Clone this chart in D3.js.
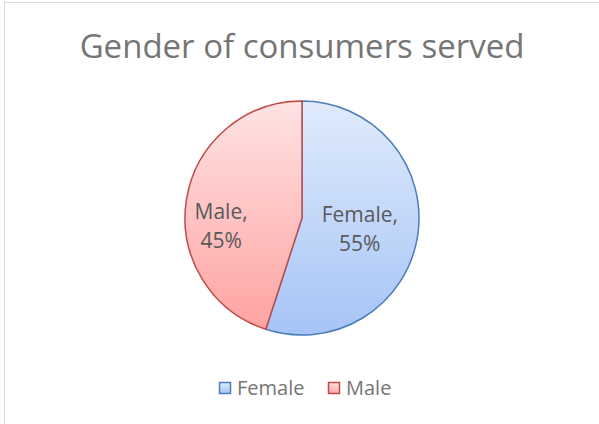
<!DOCTYPE html>
<html>
<head>
<meta charset="utf-8">
<script src="https://cdn.jsdelivr.net/npm/d3@7"></script>
<style>
  body { margin: 0; background: #fff; }
  .svg-frame { width: 599px; height: 424px; }
  text { font-family: "Open Sans", "Liberation Sans", sans-serif; }
</style>
</head>
<body>
<div class="svg-frame"></div>
<script>
const categories = ["Female", "Male"]
const shares = [55, 45]
const title = "Gender of consumers served"

function drawViz() {
  const frameWidth = 599
  const frameHeight = 424
  const svg = d3.select(".svg-frame")
    .append("svg")
    .attr("width", frameWidth)
    .attr("height", frameHeight)

  //chart border
  svg.append("rect")
    .attr("x", 4.5).attr("y", 2.5)
    .attr("width", frameWidth).attr("height", frameHeight)
    .attr("fill", "#fff")
    .attr("stroke", "#d9d9d9")

  svg.append("text")
    .attr("x", 302).attr("y", 58)
    .attr("text-anchor", "middle")
    .attr("font-size", 33)
    .attr("fill", "#757575")
    .text(title)

  const colors = {
    Female: { top: "#e0ebfc", bottom: "#a6c4f6", stroke: "#4a7ebb" },
    Male: { top: "#ffe3e3", bottom: "#ffa3a3", stroke: "#be4b48" }
  }

  const defs = svg.append("defs")
  categories.forEach(c => {
    const g = defs.append("linearGradient")
      .attr("id", "grad-" + c)
      .attr("x1", 0).attr("y1", 0).attr("x2", 0).attr("y2", 1)
    g.append("stop").attr("offset", "0%").attr("stop-color", colors[c].top)
    g.append("stop").attr("offset", "100%").attr("stop-color", colors[c].bottom)
  })

  const cx = 302, cy = 218, radius = 117
  const data = categories.map((c, i) => ({ name: c, value: shares[i] }))
  const pie = d3.pie().value(d => d.value).sort(null)
  const arc = d3.arc().innerRadius(0).outerRadius(radius)

  const g = svg.append("g").attr("transform", `translate(${cx},${cy})`)
  const arcs = pie(data)

  g.selectAll("path.slice")
    .data(arcs)
    .join("path")
      .attr("class", "slice")
      .attr("d", arc)
      .attr("fill", d => `url(#grad-${d.data.name})`)
      .attr("stroke", d => colors[d.data.name].stroke)
      .attr("stroke-width", 1.5)
      .attr("stroke-linejoin", "round")

  //data labels (best fit placement, tuned by eye)
  const labelPos = { Female: { r: 0.5, dy: 4 }, Male: { r: 0.7, dy: 1 } }
  const labels = g.selectAll("text.label")
    .data(arcs)
    .join("text")
      .attr("class", "label")
      .attr("text-anchor", "middle")
      .attr("font-size", 21)
      .attr("fill", "#595959")
      .attr("transform", d => {
        const lp = labelPos[d.data.name]
        const [x] = d3.arc().innerRadius(radius * lp.r).outerRadius(radius * lp.r).centroid(d)
        return `translate(${x},${lp.dy})`
      })
  labels.append("tspan").attr("x", 0).attr("y", 0).text(d => d.data.name + ",")
  labels.append("tspan").attr("x", 0).attr("y", 29).text(d => d.data.value + "%")

  //legend
  const legendX = [219, 328]
  const legend = svg.selectAll("g.legend")
    .data(categories)
    .join("g")
      .attr("class", "legend")
      .attr("transform", (d, i) => `translate(${legendX[i]},382)`)
  legend.append("rect")
    .attr("x", 0.5).attr("y", 0.5)
    .attr("width", 11).attr("height", 11)
    .attr("fill", d => `url(#grad-${d})`)
    .attr("stroke", d => colors[d].stroke)
    .attr("stroke-width", 1.5)
  legend.append("text")
    .attr("x", 18).attr("y", 13)
    .attr("font-size", 20)
    .attr("fill", "#757575")
    .text(d => d)
}

drawViz()
</script>
</body>
</html>
